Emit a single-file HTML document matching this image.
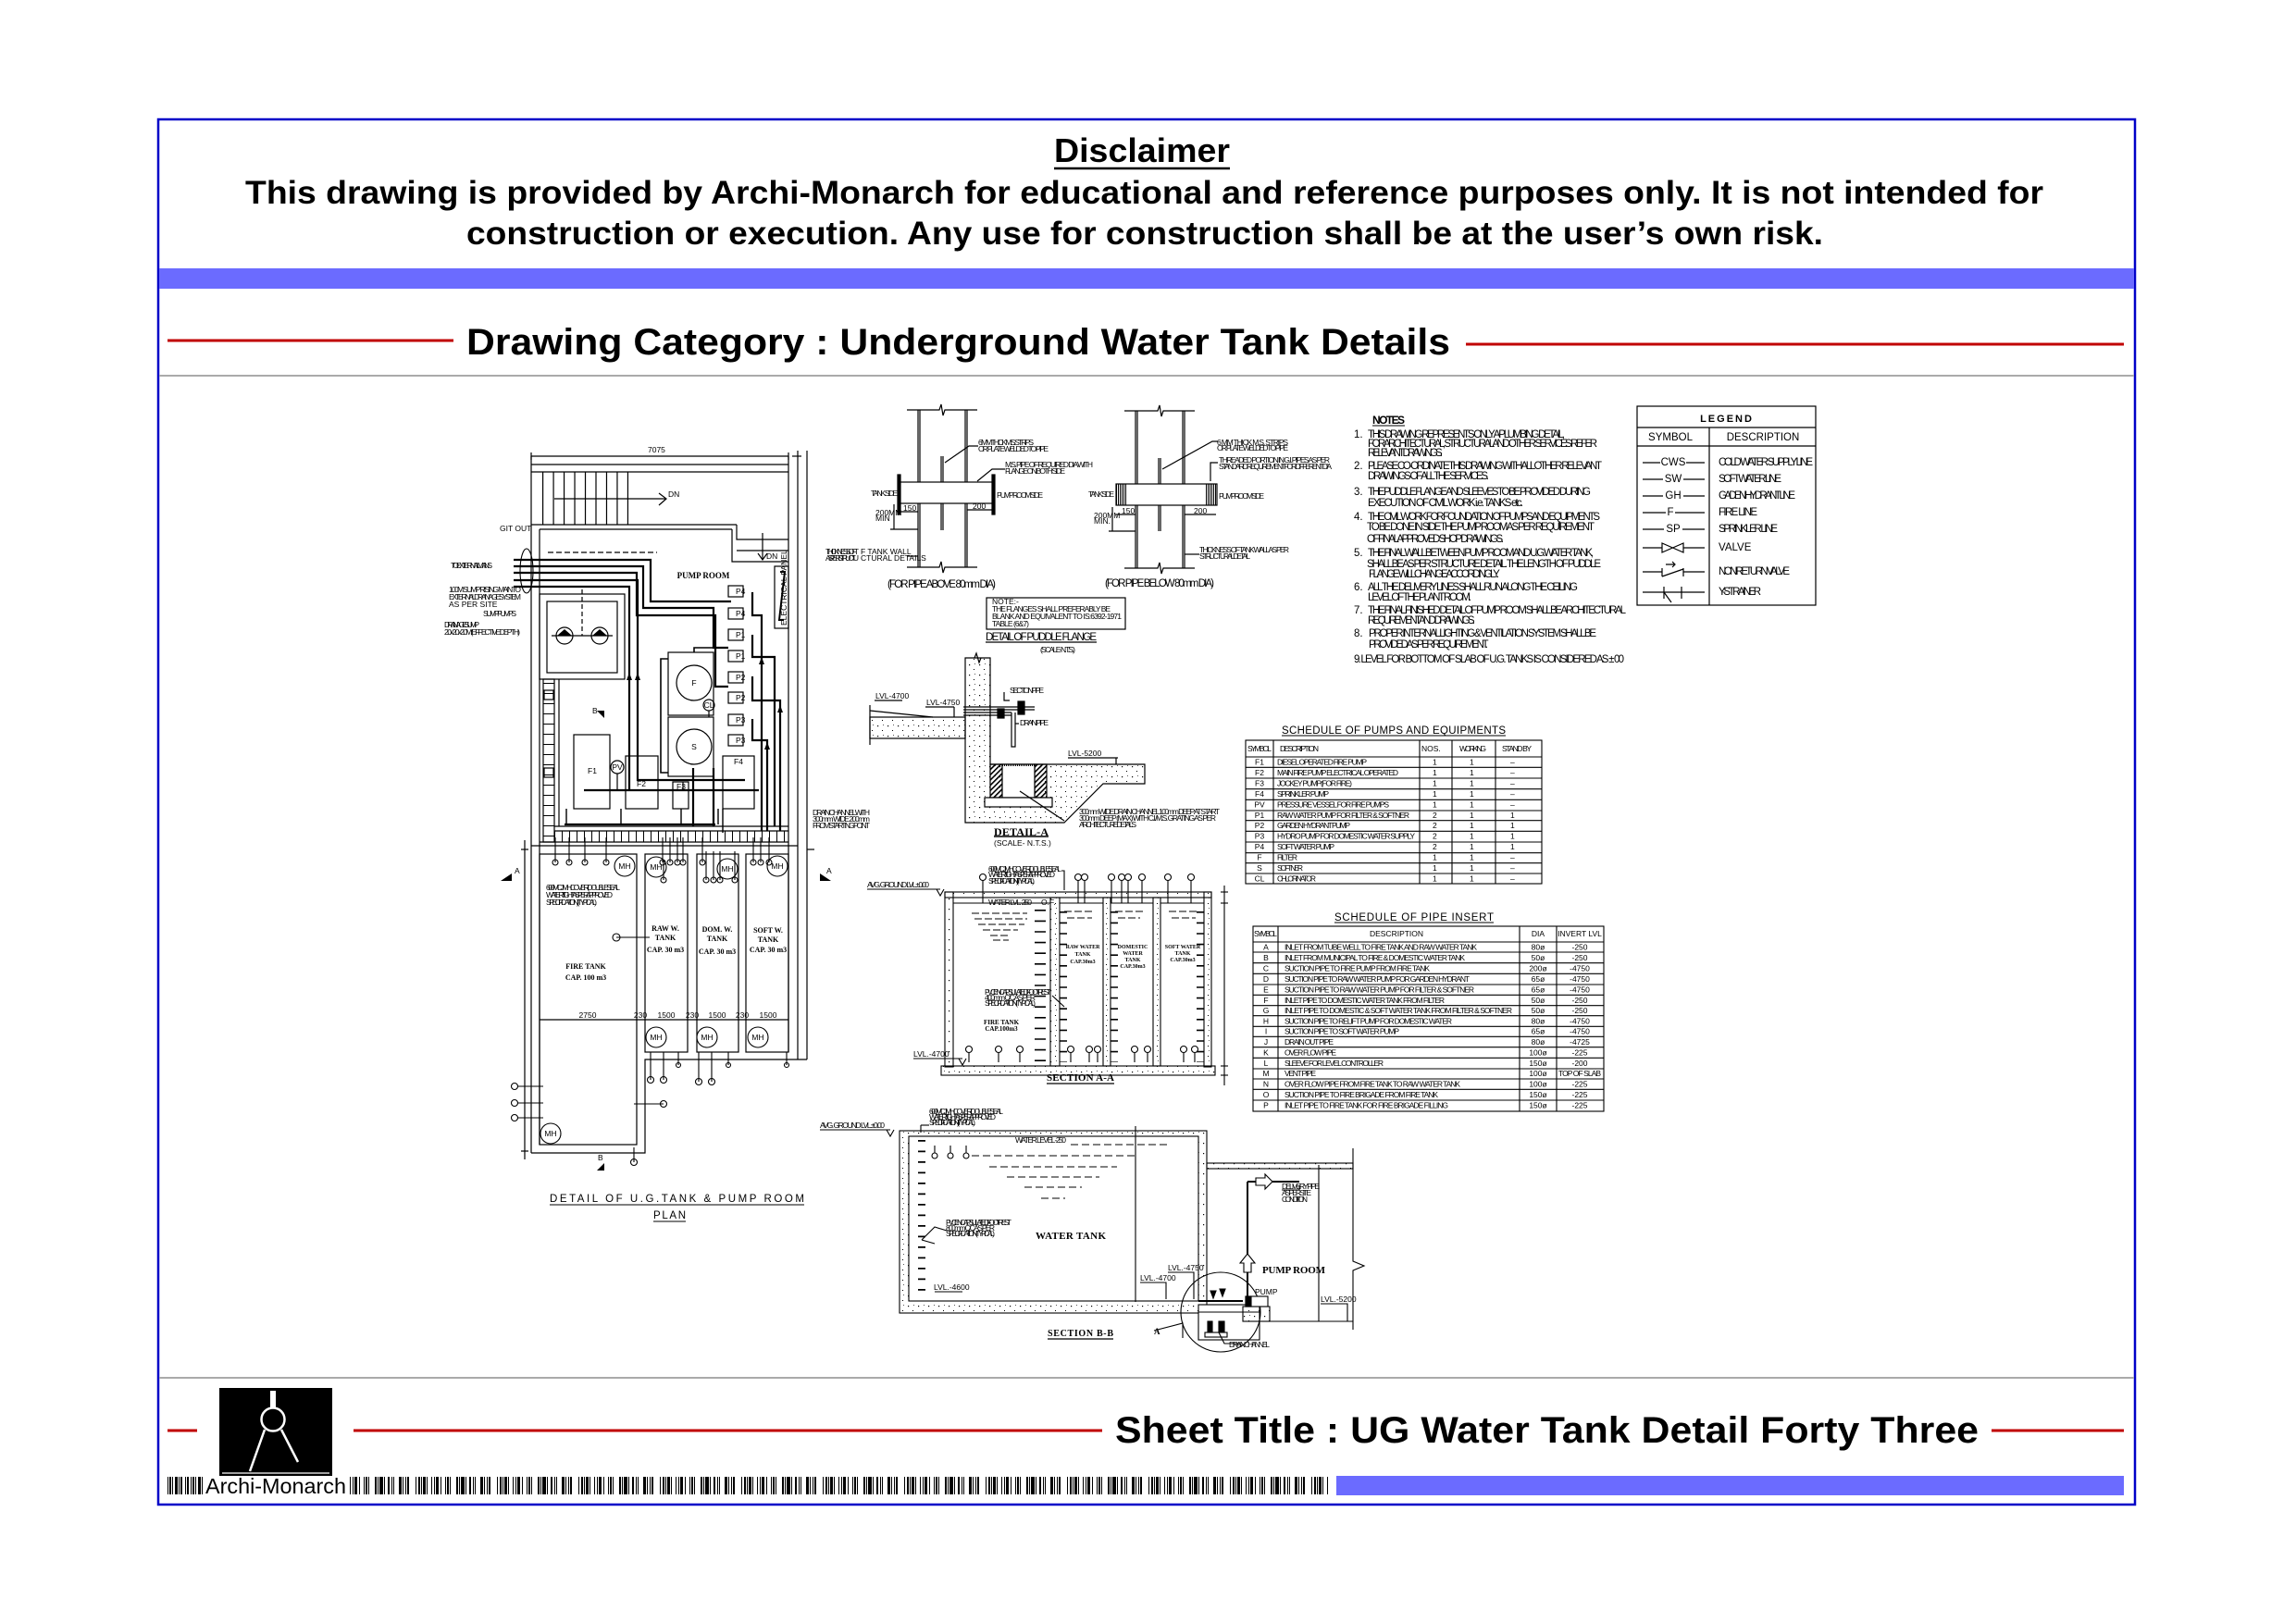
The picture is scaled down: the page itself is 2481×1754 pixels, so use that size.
<!DOCTYPE html>
<html><head><meta charset="utf-8"><title>UG Water Tank Detail Forty Three</title>
<style>
html,body{margin:0;padding:0;background:#fff;}
svg{display:block}
.b{font-family:"Liberation Sans",Arial,sans-serif;font-weight:bold;fill:#000}
.c{font-family:"Liberation Sans Narrow","Liberation Sans",Arial,sans-serif;font-size:8.5px;fill:#000;stroke:none}
.n{font-family:"Liberation Sans Narrow","Liberation Sans",Arial,sans-serif;font-size:11.5px;fill:#000;stroke:none}
.s{font-family:"Liberation Serif","Times New Roman",serif;font-weight:bold;fill:#000;stroke:none}
</style></head><body>
<svg width="2481" height="1754" viewBox="0 0 2481 1754" xmlns="http://www.w3.org/2000/svg">
<defs>
<pattern id="dots" width="11" height="11" patternUnits="userSpaceOnUse"><rect x="2" y="3" width="1.2" height="1.2" fill="#000"/><rect x="7" y="8" width="1" height="1" fill="#000"/><rect x="8" y="2" width="0.8" height="0.8" fill="#000"/></pattern>
<pattern id="hatch" width="4" height="4" patternUnits="userSpaceOnUse" patternTransform="rotate(45)"><rect x="0" y="0" width="1.6" height="4" fill="#000"/></pattern>
</defs>
<rect width="2481" height="1754" fill="#fff"/>

<!-- FRAME -->
<rect x="171" y="129" width="2136" height="1497" fill="none" stroke="#0000c8" stroke-width="2.5"/>
<rect x="172" y="290" width="2134" height="22" fill="#6b6bff"/>
<line x1="172" y1="406" x2="2306" y2="406" stroke="#aaa" stroke-width="2"/>
<line x1="172" y1="1489" x2="2306" y2="1489" stroke="#aaa" stroke-width="2"/>

<!-- HEADER -->
<text class="b" x="1234" y="175" text-anchor="middle" font-size="36" textLength="190" lengthAdjust="spacingAndGlyphs">Disclaimer</text>
<line x1="1139" y1="182" x2="1329" y2="182" stroke="#000" stroke-width="2.5"/>
<text class="b" x="265" y="220" font-size="35" textLength="1943" lengthAdjust="spacingAndGlyphs">This drawing is provided by Archi-Monarch for educational and reference purposes only. It is not intended for</text>
<text class="b" x="504" y="264" font-size="35" textLength="1466" lengthAdjust="spacingAndGlyphs">construction or execution. Any use for construction shall be at the user’s own risk.</text>
<line x1="181" y1="368" x2="490" y2="368" stroke="#c00000" stroke-width="3"/>
<line x1="1584" y1="372" x2="2295" y2="372" stroke="#c00000" stroke-width="3"/>
<text class="b" x="504" y="383" font-size="40" textLength="1063" lengthAdjust="spacingAndGlyphs">Drawing Category : Underground Water Tank Details</text>

<!-- FOOTER -->
<line x1="181" y1="1546" x2="213" y2="1546" stroke="#c00000" stroke-width="3"/>
<line x1="382" y1="1546" x2="1191" y2="1546" stroke="#c00000" stroke-width="3"/>
<line x1="2152" y1="1546" x2="2295" y2="1546" stroke="#c00000" stroke-width="3"/>
<text class="b" x="1205" y="1559" font-size="40" textLength="933" lengthAdjust="spacingAndGlyphs">Sheet Title : UG Water Tank Detail Forty Three</text>
<rect x="237" y="1500" width="122" height="95" fill="#000"/>
<g stroke="#fff" fill="none" stroke-width="2.5">
<rect x="292" y="1503" width="6" height="18" fill="#fff" stroke="none"/>
<circle cx="295" cy="1534" r="12.5"/>
<line x1="286" y1="1545" x2="270" y2="1590"/>
<line x1="304" y1="1545" x2="322" y2="1580"/>
<line x1="240" y1="1592" x2="356" y2="1592" stroke-width="1.2"/>
</g>
<line x1="181" y1="1605.5" x2="219" y2="1605.5" stroke="#000" stroke-width="19" stroke-dasharray="1 1 2 1 1 2 3 1 1 1 2 3 1 1 2 2"/>
<text x="222" y="1614" font-family="Liberation Sans, Arial, sans-serif" font-size="23" textLength="152" lengthAdjust="spacingAndGlyphs" fill="#000">Archi-Monarch</text>
<line x1="378" y1="1605.5" x2="1437" y2="1605.5" stroke="#000" stroke-width="19" stroke-dasharray="1 2 1 1 3 2 1 4 1 1 2 1 1 6 2 1 1 1 4 1 1 3 2 2 1 1 1 5 3 1 1 2 1 1 2 7 1 2 2 1 1 1 3 1 1 4"/>
<rect x="1444" y="1595" width="851" height="21" fill="#6b6bff"/>

<!-- ================= PLAN ================= -->
<g stroke="#000" fill="none" stroke-width="1.2">
<line x1="574" y1="493" x2="852" y2="493"/><line x1="574" y1="489" x2="574" y2="497"/><line x1="852" y1="489" x2="852" y2="497"/>
<line x1="856" y1="493" x2="866" y2="493"/>
<line x1="574" y1="502" x2="852" y2="502"/>
<line x1="574" y1="510" x2="852" y2="510"/>
<line x1="574" y1="567" x2="796" y2="567"/>
<line x1="689" y1="538.5" x2="792" y2="538.5" stroke-width="57" stroke-dasharray="1.2 10.28" transform="translate(-103,0)"/>
<line x1="599" y1="539" x2="720" y2="539"/><polyline points="712,533 720,539 712,546"/>
<text class="c" x="722" y="537" font-size="7">DN</text>
<line x1="583" y1="572" x2="791" y2="572"/>
<polyline points="791,572 791,607 852,607"/>
<polyline points="796,567 796,583 852,583"/><line x1="796" y1="595" x2="852" y2="595"/>
<line x1="824" y1="576" x2="824" y2="605"/><polyline points="819,598 824,605 829,598"/><text class="c" x="828" y="604" font-size="7">DN</text>
<!-- walls -->
<line x1="574" y1="493" x2="574" y2="1246"/>
<line x1="583" y1="572" x2="583" y2="1237"/>
<line x1="852" y1="493" x2="852" y2="1137"/>
<line x1="862" y1="487" x2="862" y2="1145"/>
<line x1="872" y1="487" x2="872" y2="1145"/>
<line x1="583" y1="910" x2="852" y2="910"/>
<line x1="574" y1="914" x2="862" y2="914"/>
<line x1="599" y1="893" x2="852" y2="893"/>
<line x1="599" y1="898" x2="852" y2="898"/>
<line x1="599" y1="904" x2="852" y2="904" stroke-width="12" stroke-dasharray="1 7"/>
<line x1="604" y1="734" x2="604" y2="893"/>
<rect x="587" y="734" width="12" height="176"/>
<line x1="593" y1="738" x2="593" y2="908" stroke-width="12" stroke-dasharray="1 10"/>
<rect x="588" y="746" width="10" height="10"/><rect x="588" y="830" width="10" height="10"/>
<!-- tanks -->
<rect x="583" y="923" width="105" height="314"/>
<rect x="697" y="923" width="46" height="214"/>
<rect x="753" y="923" width="45" height="214"/>
<rect x="806" y="923" width="46" height="214"/>
<polyline points="574,1246 697,1246 697,1145 872,1145"/>
<line x1="583" y1="1102" x2="852" y2="1102"/>
<line x1="567" y1="908" x2="567" y2="1253"/>
<line x1="563" y1="918" x2="571" y2="918"/><line x1="563" y1="1244" x2="571" y2="1244"/>
<line x1="872" y1="918" x2="880" y2="918"/>
<!-- sump -->
<rect x="583" y="642" width="92" height="92"/>
<rect x="591" y="650" width="76" height="77"/>
<line x1="596" y1="687" x2="662" y2="687"/>
<line x1="629" y1="637" x2="629" y2="687" stroke-dasharray="5 3"/>
<circle cx="610" cy="687" r="9"/><circle cx="648" cy="687" r="9"/>
<line x1="592" y1="597" x2="710" y2="597" stroke-dasharray="6 3"/>
<!-- equipment -->
<rect x="722" y="705" width="49" height="68"/>
<circle cx="750" cy="738" r="19"/>
<rect x="722" y="775" width="49" height="64"/>
<circle cx="750" cy="807" r="19"/>
<circle cx="766" cy="762" r="6"/>
<rect x="620" y="794" width="39" height="80"/>
<rect x="676" y="817" width="35" height="57"/>
<rect x="727" y="845" width="17" height="29"/>
<rect x="781" y="817" width="34" height="57"/>
<circle cx="667" cy="829" r="7"/>
<rect x="787" y="633" width="16" height="12"/><rect x="787" y="657" width="16" height="12"/>
<rect x="787" y="680" width="16" height="12"/><rect x="787" y="703" width="16" height="12"/>
<rect x="787" y="726" width="16" height="12"/><rect x="787" y="748" width="16" height="12"/>
<rect x="787" y="772" width="16" height="12"/><rect x="787" y="794" width="16" height="12"/>
<rect x="837" y="612" width="15" height="67"/>
<polyline points="843,618 848,618 842,670 847,670" stroke-width="2"/>
<line x1="667" y1="836" x2="667" y2="854"/>
<line x1="766" y1="768" x2="766" y2="775"/>
<line x1="738" y1="845" x2="738" y2="854"/>
</g>
<!-- pipes -->
<g stroke="#000" fill="none" stroke-width="2.2">
<polyline points="555,605 703,605 703,650 790,650"/>
<polyline points="555,612 695,612 695,657 771,657 771,700 787,700"/>
<polyline points="555,619 688,619 688,665 773,665 773,742 787,742"/>
<polyline points="555,627 689,627 689,843 805,843"/>
<polyline points="555,634 680,634 680,855"/>
<polyline points="813,640 813,665 823,665 823,898"/>
<polyline points="813,686 813,710 837,710 837,893"/>
<polyline points="813,731 813,757 843,757 843,898"/>
<polyline points="813,777 813,800 829,800 829,898"/>
<line x1="631" y1="854" x2="820" y2="854"/>
<line x1="610" y1="891" x2="773" y2="891"/>
<line x1="749" y1="830" x2="749" y2="893"/>
<line x1="771" y1="830" x2="771" y2="893"/>
<polyline points="722,712 714,712 714,835 722,835" stroke-width="1.6"/>
<polyline points="750,705 750,700 787,700" stroke-width="1.6"/>
<line x1="612" y1="874" x2="612" y2="891" stroke-width="1.4"/>
<line x1="671" y1="874" x2="671" y2="891" stroke-width="1.4"/>
<line x1="736" y1="874" x2="736" y2="891" stroke-width="1.4"/>
<line x1="776" y1="874" x2="776" y2="891" stroke-width="1.4"/>
<line x1="781" y1="874" x2="781" y2="900" stroke-width="1.4"/>
</g>
<g fill="#000">
<path d="M602,687 l8,-7 l8,7z"/><path d="M640,687 l8,-7 l8,7z"/>
<path d="M820,718 l3,-8 l3,8z"/><path d="M840,770 l3,-8 l3,8z"/><path d="M826,810 l3,-8 l3,8z"/>
<path d="M677,735 l3,-8 l3,8z"/><path d="M686,735 l3,-8 l3,8z"/>
</g>
<g>
<text class="s" x="760" y="625" font-size="9" text-anchor="middle">PUMP ROOM</text>
<text class="c" x="750" y="741" text-anchor="middle" font-size="8">F</text>
<text class="c" x="750" y="810" text-anchor="middle" font-size="8">S</text>
<text class="c" x="766" y="765" text-anchor="middle" font-size="6">CL</text>
<text class="c" x="667" y="832" text-anchor="middle" font-size="6">PV</text>
<text class="c" x="640" y="836" text-anchor="middle" font-size="8">F1</text>
<text class="c" x="693" y="850" text-anchor="middle" font-size="8">F2</text>
<text class="c" x="736" y="853" text-anchor="middle" font-size="7">F3</text>
<text class="c" x="798" y="826" text-anchor="middle" font-size="8">F4</text>
<text class="c" x="795" y="642" font-size="6">P4</text><text class="c" x="795" y="666" font-size="6">P4</text>
<text class="c" x="795" y="689" font-size="6">P1</text><text class="c" x="795" y="712" font-size="6">P1</text>
<text class="c" x="795" y="735" font-size="6">P2</text><text class="c" x="795" y="757" font-size="6">P2</text>
<text class="c" x="795" y="781" font-size="6">P3</text><text class="c" x="795" y="803" font-size="6">P3</text>
<text class="c" x="0" y="0" font-size="5" transform="translate(850,676) rotate(-90)">ELECTRICAL PANEL</text>
<text class="c" x="700" y="489" font-size="5">7075</text>
<text class="c" x="540" y="574" font-size="5">GIT OUT</text>
<text class="c" x="487" y="614" font-size="5" textLength="45">TO EXTERNAL MAINS</text>
<text class="c" x="485" y="640" font-size="5" textLength="78">100M SUMP RISING MAIN TO</text>
<text class="c" x="485" y="648" font-size="5" textLength="78">EXTERNAL DRAINAGE SYSTEM</text>
<text class="c" x="485" y="656" font-size="5">AS PER SITE</text>
<text class="c" x="522" y="666" font-size="5" textLength="36">SUMP PUMPS</text>
<text class="c" x="480" y="678" font-size="5" textLength="38">DRAINAGE SUMP</text>
<text class="c" x="480" y="686" font-size="5" textLength="82">2.0x2.0x2.0M(EFFECTIVE DEPTH)</text>
<text class="c" x="878" y="881" font-size="5" textLength="62">DRAIN CHANNEL WITH</text>
<text class="c" x="878" y="888" font-size="5" textLength="62">300mm WIDE 200mm</text>
<text class="c" x="878" y="895" font-size="5" textLength="62">FROM STARTING POINT</text>
<text class="c" x="590" y="962" font-size="5" textLength="80">600MCJ M.H. COVER (DOUBLE SEAL</text>
<text class="c" x="590" y="970" font-size="5" textLength="72">WATER TIGHT AS PER APPROVED</text>
<text class="c" x="590" y="978" font-size="5" textLength="55">SPECIFICATION) (TYPICAL)</text>
<text class="s" x="633" y="1047" font-size="8" text-anchor="middle">FIRE TANK</text>
<text class="s" x="633" y="1059" font-size="8" text-anchor="middle">CAP. 100 m3</text>
<text class="s" x="719" y="1006" font-size="8" text-anchor="middle">RAW W.</text>
<text class="s" x="719" y="1016" font-size="8" text-anchor="middle">TANK</text>
<text class="s" x="719" y="1029" font-size="8" text-anchor="middle">CAP. 30 m3</text>
<text class="s" x="775" y="1007" font-size="8" text-anchor="middle">DOM. W.</text>
<text class="s" x="775" y="1017" font-size="8" text-anchor="middle">TANK</text>
<text class="s" x="775" y="1031" font-size="8" text-anchor="middle">CAP. 30 m3</text>
<text class="s" x="830" y="1008" font-size="8" text-anchor="middle">SOFT W.</text>
<text class="s" x="830" y="1018" font-size="8" text-anchor="middle">TANK</text>
<text class="s" x="830" y="1029" font-size="8" text-anchor="middle">CAP. 30 m3</text>
<text class="c" x="635" y="1100" font-size="5" text-anchor="middle">2750</text>
<text class="c" x="692" y="1100" font-size="5" text-anchor="middle">230</text>
<text class="c" x="720" y="1100" font-size="5" text-anchor="middle">1500</text>
<text class="c" x="748" y="1100" font-size="5" text-anchor="middle">230</text>
<text class="c" x="775" y="1100" font-size="5" text-anchor="middle">1500</text>
<text class="c" x="802" y="1100" font-size="5" text-anchor="middle">230</text>
<text class="c" x="830" y="1100" font-size="5" text-anchor="middle">1500</text>
<text class="c" x="556" y="944" font-size="7">A</text>
<text class="c" x="893" y="944" font-size="7">A</text>
<text class="c" x="640" y="771" font-size="7">B</text>
<text class="c" x="646" y="1254" font-size="7">B</text>
</g>
<g fill="#000">
<path d="M541,952 l12,0 l0,-8z"/><path d="M886,952 l12,0 l-12,-8z"/>
<path d="M645,768 l8,0 l0,8z"/><path d="M645,1265 l8,0 l0,-8z"/>
</g>
<!-- manholes & bubbles -->
<g stroke="#000" fill="#fff" stroke-width="1.1">
<circle cx="675" cy="936" r="11"/><circle cx="709" cy="937" r="11"/><circle cx="786" cy="939" r="11"/><circle cx="840" cy="936" r="11"/>
<circle cx="709" cy="1121" r="11"/><circle cx="764" cy="1121" r="11"/><circle cx="819" cy="1121" r="11"/><circle cx="595" cy="1225" r="11"/>
</g>
<g>
<text class="c" x="675" y="939" text-anchor="middle" font-size="7">MH</text><text class="c" x="709" y="940" text-anchor="middle" font-size="7">MH</text>
<text class="c" x="786" y="942" text-anchor="middle" font-size="7">MH</text><text class="c" x="840" y="939" text-anchor="middle" font-size="7">MH</text>
<text class="c" x="709" y="1124" text-anchor="middle" font-size="7">MH</text><text class="c" x="764" y="1124" text-anchor="middle" font-size="7">MH</text>
<text class="c" x="819" y="1124" text-anchor="middle" font-size="7">MH</text><text class="c" x="595" y="1228" text-anchor="middle" font-size="7">MH</text>
</g>
<g stroke="#000" fill="none" stroke-width="1.1">
<path d="M600,905v27M615,905v27M632,905v27M655,905v27M716,905v27M724,905v27M732,905v27M738,905v27M759,905v27M814,905v27M822,905v27M831,905v27M717,930v21M763,920v31M771,920v31M778,920v31M794,920v31"/>
<path d="M703,1137v30M717,1137v30M755,1137v32M769,1137v32M733,1137v14M787,1137v14M850,1137v14"/>
<path d="M560,1174h27M560,1192h27M560,1208h27M685,1193h32M685,1240v16M666,1013h36"/>
<circle cx="600" cy="932" r="3"/><circle cx="615" cy="932" r="3"/><circle cx="632" cy="932" r="3"/><circle cx="655" cy="932" r="3"/>
<circle cx="716" cy="932" r="3"/><circle cx="724" cy="932" r="3"/><circle cx="732" cy="932" r="3"/><circle cx="738" cy="932" r="3"/>
<circle cx="759" cy="932" r="3"/><circle cx="814" cy="932" r="3"/><circle cx="822" cy="932" r="3"/><circle cx="831" cy="932" r="3"/>
<circle cx="717" cy="951" r="3"/><circle cx="763" cy="951" r="3"/><circle cx="771" cy="951" r="3"/><circle cx="778" cy="951" r="3"/><circle cx="794" cy="951" r="3"/>
<circle cx="703" cy="1167" r="3.5"/><circle cx="717" cy="1167" r="3.5"/><circle cx="755" cy="1169" r="3.5"/><circle cx="769" cy="1169" r="3.5"/>
<circle cx="733" cy="1151" r="2.5"/><circle cx="787" cy="1151" r="2.5"/><circle cx="850" cy="1151" r="2.5"/>
<circle cx="556" cy="1174" r="3.5"/><circle cx="556" cy="1192" r="3.5"/><circle cx="556" cy="1208" r="3.5"/>
<circle cx="717" cy="1193" r="3.5"/><circle cx="685" cy="1256" r="3.5"/><circle cx="666" cy="1013" r="4"/>
<ellipse cx="569" cy="617" rx="7" ry="24"/>
</g>
<text class="n" x="594" y="1299" textLength="275" lengthAdjust="spacing" font-size="16" stroke="#000" stroke-width="0.4">DETAIL OF U.G.TANK &amp; PUMP ROOM</text>
<line x1="594" y1="1302" x2="869" y2="1302" stroke="#000" stroke-width="1"/>
<text class="n" x="706" y="1317" textLength="35" lengthAdjust="spacing" font-size="16" stroke="#000" stroke-width="0.4">PLAN</text>
<line x1="706" y1="1320" x2="741" y2="1320" stroke="#000" stroke-width="1"/>

<!-- ================= PUDDLE FLANGES ================= -->
<g stroke="#000" fill="none" stroke-width="1.2">
<polyline points="980,443 1015,443 1017,437 1019,449 1021,443 1056,443"/>
<polyline points="980,613 1015,613 1017,607 1019,619 1021,613 1056,613"/>
<line x1="992" y1="443" x2="992" y2="613"/><line x1="994" y1="443" x2="994" y2="613"/>
<line x1="1043" y1="443" x2="1043" y2="613"/><line x1="1045" y1="443" x2="1045" y2="613"/>
<rect x="972" y="521" width="101" height="23" fill="#fff"/>
<rect x="970" y="513" width="3" height="43" fill="#000"/><rect x="1072" y="513" width="3" height="43" fill="#000"/>
<line x1="1017" y1="493" x2="1017" y2="521"/><line x1="1019" y1="493" x2="1019" y2="521"/>
<line x1="1017" y1="544" x2="1017" y2="573"/><line x1="1019" y1="544" x2="1019" y2="573"/>
<line x1="972" y1="553" x2="992" y2="553"/><line x1="1045" y1="551" x2="1073" y2="551"/>
<line x1="966" y1="545" x2="966" y2="572"/><line x1="962" y1="572" x2="992" y2="572"/>
<polyline points="1021,500 1047,482 1057,482"/><polyline points="1056,520 1072,507 1086,507"/>
<line x1="980" y1="601" x2="992" y2="601"/>
<polyline points="1215,444 1251,444 1253,438 1255,450 1257,444 1291,444"/>
<polyline points="1215,614 1251,614 1253,608 1255,620 1257,614 1291,614"/>
<line x1="1227" y1="444" x2="1227" y2="614"/><line x1="1229" y1="444" x2="1229" y2="614"/>
<line x1="1278" y1="444" x2="1278" y2="614"/><line x1="1280" y1="444" x2="1280" y2="614"/>
<rect x="1206" y="523" width="109" height="23" fill="#fff"/>
<line x1="1206" y1="534.5" x2="1218" y2="534.5" stroke-width="23" stroke-dasharray="1 1"/>
<line x1="1303" y1="534.5" x2="1315" y2="534.5" stroke-width="23" stroke-dasharray="1 1"/>
<line x1="1252" y1="495" x2="1252" y2="523"/><line x1="1254" y1="495" x2="1254" y2="523"/>
<line x1="1252" y1="546" x2="1252" y2="574"/><line x1="1254" y1="546" x2="1254" y2="574"/>
<line x1="1206" y1="556" x2="1227" y2="556"/><line x1="1280" y1="556" x2="1314" y2="556"/>
<line x1="1202" y1="548" x2="1202" y2="574"/><line x1="1198" y1="574" x2="1227" y2="574"/>
<polyline points="1256,507 1310,477 1316,477"/><polyline points="1308,520 1308,500 1316,500"/>
<polyline points="1280,599 1296,599"/>
<rect x="1066" y="646" width="150" height="34"/>
<line x1="1065" y1="694" x2="1185" y2="694"/>
</g>
<g>
<text class="c" x="1057" y="481" font-size="6" textLength="60">6 MM THICK M.S. STRIPS</text>
<text class="c" x="1057" y="488" font-size="6" textLength="76">OR PLATE WELDED TO PIPE</text>
<text class="c" x="1086" y="505" font-size="6" textLength="95">M.S. PIPE OF REQUIRED DIA WITH</text>
<text class="c" x="1086" y="512" font-size="6" textLength="65">FLANGE ON BOTH SIDE</text>
<text class="c" x="941" y="536" font-size="6" textLength="29">TANK SIDE</text>
<text class="c" x="1077" y="538" font-size="6" textLength="50">PUMP ROOM SIDE</text>
<text class="c" x="976" y="552" font-size="6">150</text><text class="c" x="1051" y="550" font-size="6">200</text>
<text class="c" x="946" y="557" font-size="5">200MM</text><text class="c" x="946" y="563" font-size="5">MIN</text>
<text class="c" x="930" y="599" font-size="6">F TANK WALL</text><text class="c" x="930" y="606" font-size="6">CTURAL DETAILS</text>
<text class="c" x="892" y="599" font-size="5" textLength="36">THICKNESS OF T</text>
<text class="c" x="892" y="606" font-size="5" textLength="36">AS PER STRUCTU</text>
<text class="n" x="959" y="635" font-size="9" textLength="117">(FOR PIPE ABOVE 80mm DIA)</text>
<text class="c" x="1315" y="481" font-size="6" textLength="77">6 MM THICK M.S. STRIPS</text>
<text class="c" x="1315" y="487" font-size="6" textLength="77">OR PLATE WELDED TO PIPE</text>
<text class="c" x="1317" y="500" font-size="6" textLength="120">THREADED PORTION IN G.I. PIPES AS PER</text>
<text class="c" x="1317" y="507" font-size="6" textLength="122">STANDARD REQUIREMENT FOR DIFFERENT DIA</text>
<text class="c" x="1176" y="537" font-size="6" textLength="28">TANK SIDE</text>
<text class="c" x="1317" y="539" font-size="6" textLength="49">PUMP ROOM SIDE</text>
<text class="c" x="1212" y="555" font-size="6">150</text><text class="c" x="1290" y="555" font-size="6">200</text>
<text class="c" x="1182" y="560" font-size="5">200MM</text><text class="c" x="1182" y="566" font-size="5">MIN.</text>
<text class="c" x="1296" y="597" font-size="6" textLength="97">THICKNESS OF TANK WALL AS PER</text>
<text class="c" x="1296" y="604" font-size="6" textLength="55">STRUCTURAL DETAIL</text>
<text class="n" x="1194" y="634" font-size="9" textLength="118">(FOR PIPE BELOW 80mm DIA)</text>
<text class="c" x="1072" y="653" font-size="6.5">NOTE:-</text>
<text class="c" x="1072" y="661" font-size="6.5" textLength="128">THE FLANGES SHALL PREFERABLY BE</text>
<text class="c" x="1072" y="669" font-size="6.5" textLength="140">BLANK AND EQUIVALENT TO IS:6392-1971</text>
<text class="c" x="1072" y="677" font-size="6.5" textLength="40">TABLE (6&amp;7)</text>
<text class="n" x="1065" y="692" font-size="10" textLength="120">DETAIL OF PUDDLE FLANGE</text>
<text class="c" x="1124" y="705" font-size="6" textLength="38">(SCALE-N.T.S.)</text>
</g>

<!-- ================= DETAIL A ================= -->
<g stroke="#000" stroke-width="1.2">
<polygon points="1043,711 1070,711 1070,826 1237,826 1237,847 1192,847 1150,889 1043,889" fill="url(#dots)"/>
<rect x="940" y="775" width="103" height="23" fill="url(#dots)"/>
<polyline points="940,768 1008,775" fill="none"/>
<line x1="940" y1="762" x2="940" y2="805"/>
<rect x="1070" y="826" width="13" height="36" fill="url(#hatch)"/>
<rect x="1118" y="826" width="13" height="36" fill="url(#hatch)"/>
<rect x="1083" y="826" width="35" height="36" fill="#fff"/>
<rect x="1064" y="862" width="73" height="10" fill="#fff"/>
<line x1="1083" y1="827" x2="1118" y2="827" stroke-dasharray="1 1" stroke-width="2"/>
<polyline points="1053,711 1055,706 1058,716 1060,711" fill="none"/>
<line x1="1041" y1="764" x2="1118" y2="764"/><line x1="1041" y1="767" x2="1118" y2="767"/>
<line x1="1041" y1="770" x2="1093" y2="770"/><line x1="1041" y1="773" x2="1093" y2="773"/>
<polyline points="1093,770 1093,807 1097,807 1097,770" fill="#fff"/>
<rect x="1100" y="758" width="7" height="14" fill="#000"/>
<rect x="1078" y="766" width="7" height="10" fill="#000"/>
<polyline points="1150,887 1102,855" fill="none"/>
<polyline points="1085,748 1085,757 1091,757" fill="none"/>
<polyline points="1097,782 1101,782" fill="none"/>
<line x1="945" y1="757" x2="975" y2="757"/><line x1="1000" y1="764" x2="1031" y2="764"/><line x1="1031" y1="764" x2="1031" y2="775"/>
<line x1="1154" y1="819" x2="1208" y2="819"/><line x1="1206" y1="819" x2="1206" y2="826"/>
<line x1="1074" y1="904" x2="1133" y2="904" stroke-width="1.5"/>
</g>
<g>
<text class="c" x="946" y="755" font-size="6">LVL-4700</text>
<text class="c" x="1001" y="762" font-size="6">LVL-4750</text>
<text class="c" x="1091" y="749" font-size="6" textLength="37">SECTION PIPE</text>
<text class="c" x="1102" y="784" font-size="6" textLength="31">DRAIN PIPE</text>
<text class="c" x="1154" y="817" font-size="6">LVL-5200</text>
<text class="c" x="1166" y="880" font-size="6" textLength="152">300mm WIDE DRAIN CHANNEL 100mm DEEP AT START</text>
<text class="c" x="1166" y="887" font-size="6" textLength="148">300mm DEEP (MAX) WITH C.I./M.S. GRATING AS PER</text>
<text class="c" x="1166" y="894" font-size="6" textLength="62">ARCHITECTURE DETAILS</text>
<text class="s" x="1074" y="903" font-size="12" textLength="59">DETAIL-A</text>
<text class="c" x="1074" y="914" font-size="6">(SCALE- N.T.S.)</text>
</g>

<!-- ================= SECTION A-A ================= -->
<g stroke="#000" stroke-width="1.1">
<rect x="1021" y="964" width="288" height="6" fill="url(#dots)"/>
<rect x="1021" y="964" width="9" height="189" fill="url(#dots)"/>
<rect x="1135" y="970" width="10" height="182" fill="url(#dots)"/>
<rect x="1192" y="970" width="8" height="182" fill="url(#dots)"/>
<rect x="1246" y="970" width="8" height="182" fill="url(#dots)"/>
<rect x="1301" y="964" width="8" height="189" fill="url(#dots)"/>
<rect x="1017" y="1152" width="296" height="10" fill="url(#dots)"/>
<line x1="1030" y1="976" x2="1135" y2="976"/>
<line x1="1145" y1="976" x2="1192" y2="976"/><line x1="1200" y1="976" x2="1246" y2="976"/><line x1="1254" y1="976" x2="1301" y2="976"/>
<line x1="937" y1="961" x2="1016" y2="961"/><polyline points="1012,961 1016,968 1020,961" fill="none"/>
<line x1="987" y1="1144" x2="1040" y2="1144"/><polyline points="1036,1144 1040,1151 1044,1144" fill="none"/>
<line x1="1323" y1="957" x2="1323" y2="1173"/>
<line x1="1319" y1="964" x2="1327" y2="964"/><line x1="1319" y1="976" x2="1327" y2="976"/><line x1="1319" y1="1152" x2="1327" y2="1152"/><line x1="1319" y1="1162" x2="1327" y2="1162"/>
<polyline points="1147,941 1150,941 1150,962" fill="none"/>
</g>
<g stroke="#000" stroke-width="1.1" fill="none">
<line x1="1050" y1="987" x2="1110" y2="987" stroke-dasharray="8 3"/>
<line x1="1053" y1="993" x2="1110" y2="993" stroke-dasharray="8 3"/>
<line x1="1057" y1="999" x2="1107" y2="999" stroke-dasharray="8 3"/>
<line x1="1062" y1="1005" x2="1100" y2="1005" stroke-dasharray="8 3"/>
<line x1="1070" y1="1011" x2="1090" y2="1011" stroke-dasharray="8 3"/>
<line x1="1073" y1="1016" x2="1090" y2="1016" stroke-dasharray="8 3"/>
<line x1="1150" y1="985" x2="1183" y2="985" stroke-dasharray="8 3"/><line x1="1153" y1="992" x2="1180" y2="992" stroke-dasharray="8 3"/>
<line x1="1205" y1="985" x2="1235" y2="985" stroke-dasharray="8 3"/><line x1="1208" y1="992" x2="1232" y2="992" stroke-dasharray="8 3"/>
<line x1="1263" y1="985" x2="1295" y2="985" stroke-dasharray="8 3"/><line x1="1266" y1="992" x2="1292" y2="992" stroke-dasharray="8 3"/>
<line x1="1124" y1="983" x2="1124" y2="1148" stroke-width="12" stroke-dasharray="1.6 10"/>
<line x1="1149" y1="985" x2="1149" y2="1148" stroke-width="8" stroke-dasharray="1.6 10"/>
<line x1="1204" y1="985" x2="1204" y2="1148" stroke-width="8" stroke-dasharray="1.6 10"/>
<line x1="1297" y1="985" x2="1297" y2="1148" stroke-width="8" stroke-dasharray="1.6 10"/>
<path d="M1062,951v25M1165,951v25M1172,951v25M1201,951v25M1212,951v25M1219,951v25M1234,951v25M1262,951v25M1287,951v25"/>
<path d="M1047,1137v11M1079,1137v11M1102,1137v11M1157,1137v11M1177,1137v11M1186,1137v11M1226,1137v11M1240,1137v11M1279,1137v11M1291,1137v11"/>
<circle cx="1062" cy="948" r="3.5"/><circle cx="1165" cy="948" r="3.5"/><circle cx="1172" cy="948" r="3.5"/><circle cx="1201" cy="948" r="3.5"/>
<circle cx="1212" cy="948" r="3.5"/><circle cx="1219" cy="948" r="3.5"/><circle cx="1234" cy="948" r="3.5"/><circle cx="1262" cy="948" r="3.5"/><circle cx="1287" cy="948" r="3.5"/>
<circle cx="1047" cy="1134" r="3.5"/><circle cx="1079" cy="1134" r="3.5"/><circle cx="1102" cy="1134" r="3.5"/><circle cx="1157" cy="1134" r="3.5"/>
<circle cx="1177" cy="1134" r="3.5"/><circle cx="1186" cy="1134" r="3.5"/><circle cx="1226" cy="1134" r="3.5"/><circle cx="1240" cy="1134" r="3.5"/>
<circle cx="1279" cy="1134" r="3.5"/><circle cx="1291" cy="1134" r="3.5"/>
<line x1="1137" y1="1076" x2="1150" y2="1088"/>
</g>
<g>
<text class="c" x="937" y="959" font-size="6" textLength="67">AVG. GROUND LVL.±0.00</text>
<text class="c" x="1068" y="942" font-size="5" textLength="79">600MCJ M.H. COVER (DOUBLE SEAL</text>
<text class="c" x="1068" y="948" font-size="5" textLength="72">WATER TIGHT AS PER APPROVED</text>
<text class="c" x="1068" y="955" font-size="5" textLength="50">SPECIFICATION) (TYPICAL)</text>
<text class="c" x="1068" y="978" font-size="6" textLength="47">WATER LVL.-250</text>
<text class="c" x="1125" y="978" font-size="6">O.F.</text>
<text class="c" x="987" y="1142" font-size="6">LVL.-4700</text>
<text class="c" x="1064" y="1075" font-size="5" textLength="72">PVC ENCAPSULATED FOOT REST</text>
<text class="c" x="1064" y="1081" font-size="5" textLength="55">400mm C/C AS PER</text>
<text class="c" x="1064" y="1087" font-size="5" textLength="55">SPECIFICATION (TYPICAL)</text>
<text class="s" x="1082" y="1107" font-size="7" text-anchor="middle">FIRE TANK</text>
<text class="s" x="1082" y="1114" font-size="7" text-anchor="middle">CAP.100m3</text>
<text class="s" x="1170" y="1025" font-size="6" text-anchor="middle">RAW WATER</text>
<text class="s" x="1170" y="1033" font-size="6" text-anchor="middle">TANK</text>
<text class="s" x="1170" y="1041" font-size="6" text-anchor="middle">CAP.30m3</text>
<text class="s" x="1224" y="1025" font-size="6" text-anchor="middle">DOMESTIC</text>
<text class="s" x="1224" y="1032" font-size="6" text-anchor="middle">WATER</text>
<text class="s" x="1224" y="1039" font-size="6" text-anchor="middle">TANK</text>
<text class="s" x="1224" y="1046" font-size="6" text-anchor="middle">CAP.30m3</text>
<text class="s" x="1278" y="1025" font-size="6" text-anchor="middle">SOFT WATER</text>
<text class="s" x="1278" y="1032" font-size="6" text-anchor="middle">TANK</text>
<text class="s" x="1278" y="1039" font-size="6" text-anchor="middle">CAP.30m3</text>
<text class="s" x="1131" y="1168" font-size="11" textLength="73">SECTION A-A</text>
<line x1="1131" y1="1171" x2="1204" y2="1171" stroke="#000" stroke-width="1.2"/>
</g>

<!-- ================= SECTION B-B ================= -->
<g stroke="#000" stroke-width="1.1">
<rect x="972" y="1222" width="332" height="197" fill="url(#dots)"/>
<rect x="982" y="1228" width="313" height="178" fill="#fff"/>
<line x1="982" y1="1406" x2="1295" y2="1406"/>
<rect x="1304" y="1257" width="158" height="6" fill="url(#dots)"/>
<rect x="1295" y="1410" width="66" height="38" fill="#fff"/>
<line x1="1361" y1="1428" x2="1462" y2="1428"/><line x1="1295" y1="1418" x2="1361" y2="1418"/>
<polyline points="1462,1241 1462,1363 1474,1368 1462,1373 1462,1437" fill="none"/>
<rect x="1305" y="1428" width="5" height="12" fill="#000"/><rect x="1317" y="1428" width="6" height="12" fill="#000"/>
<rect x="1302" y="1440" width="24" height="5" fill="#fff"/>
<circle cx="1319" cy="1418" r="43" fill="none"/>
<rect x="1343" y="1412" width="29" height="16" fill="url(#dots)"/>
<rect x="1346" y="1401" width="24" height="11" fill="#fff"/><rect x="1346" y="1401" width="6" height="11" fill="#000"/>
<line x1="1348" y1="1277" x2="1348" y2="1401" stroke-width="2"/>
<line x1="1348" y1="1277" x2="1404" y2="1277" stroke-width="2"/>
<polygon points="1357,1273 1367,1273 1367,1269 1375,1277 1367,1285 1367,1281 1357,1281" fill="#fff"/>
<polygon points="1344,1375 1344,1365 1340,1365 1348,1355 1356,1365 1352,1365 1352,1375" fill="#fff"/>
<line x1="1295" y1="1406" x2="1343" y2="1406" stroke-width="2"/>
<path d="M1308,1395 l3,8 l3,-8z M1318,1393 l3,8 l3,-8z" fill="#000"/>
<line x1="1227" y1="1217" x2="1227" y2="1407"/>
<line x1="1425" y1="1259" x2="1425" y2="1428"/>
<line x1="886" y1="1221" x2="962" y2="1221"/><polyline points="958,1221 962,1228 966,1221" fill="none"/>
<line x1="1004" y1="1216" x2="995" y2="1216"/><line x1="995" y1="1216" x2="995" y2="1224"/>
<polyline points="1404,1281 1404,1286 1385,1286" fill="none"/>
<polyline points="1247,1438 1278,1430 1278,1446z" fill="#fff"/>
<polyline points="1340,1452 1323,1452 1317,1440" fill="none"/>
<polyline points="1010,1396 1040,1396" fill="none"/><polyline points="1232,1386 1260,1386 1260,1404" fill="none"/>
<polyline points="1262,1375 1290,1375 1290,1404" fill="none"/>
<polyline points="1427,1409 1456,1409 1456,1428" fill="none"/>
<polyline points="996,1340 1010,1326 1023,1330" fill="none"/><line x1="996" y1="1340" x2="1010" y2="1344"/>
</g>
<g stroke="#000" fill="none" stroke-width="1.1">
<line x1="1157" y1="1237" x2="1265" y2="1237" stroke-dasharray="8 4"/>
<line x1="1050" y1="1249" x2="1228" y2="1249" stroke-dasharray="8 4"/>
<line x1="1069" y1="1261" x2="1207" y2="1261" stroke-dasharray="8 4"/>
<line x1="1088" y1="1272" x2="1188" y2="1272" stroke-dasharray="8 4"/>
<line x1="1107" y1="1283" x2="1169" y2="1283" stroke-dasharray="8 4"/>
<line x1="1125" y1="1295" x2="1151" y2="1295" stroke-dasharray="8 4"/>
<line x1="996" y1="1232" x2="996" y2="1404" stroke-width="8" stroke-dasharray="1.8 9.7"/>
<path d="M1010,1238v8M1027,1238v8M1044,1238v8"/>
<circle cx="1010" cy="1249" r="3"/><circle cx="1027" cy="1249" r="3"/><circle cx="1044" cy="1249" r="3"/>
</g>
<g>
<text class="c" x="886" y="1219" font-size="6" textLength="70">AVG. GROUND LVL.±0.00</text>
<text class="c" x="1004" y="1204" font-size="5" textLength="80">600MCJ M.H. COVER (DOUBLE SEAL</text>
<text class="c" x="1004" y="1210" font-size="5" textLength="72">WATER TIGHT AS PER APPROVED</text>
<text class="c" x="1004" y="1216" font-size="5" textLength="50">SPECIFICATION) (TYPICAL)</text>
<text class="c" x="1097" y="1235" font-size="6" textLength="55">WATER LEVEL -250</text>
<text class="c" x="1022" y="1324" font-size="5" textLength="71">PVC ENCAPSULATED FOOT REST</text>
<text class="c" x="1022" y="1330" font-size="5" textLength="53">800mm C/C AS PER</text>
<text class="c" x="1022" y="1336" font-size="5" textLength="53">SPECIFICATION (TYPICAL)</text>
<text class="s" x="1157" y="1339" font-size="11" text-anchor="middle" textLength="76">WATER TANK</text>
<text class="s" x="1398" y="1376" font-size="11" text-anchor="middle" textLength="68">PUMP ROOM</text>
<text class="c" x="1009" y="1394" font-size="6">LVL.-4600</text>
<text class="c" x="1232" y="1384" font-size="6">LVL.-4700</text>
<text class="c" x="1262" y="1373" font-size="6">LVL.-4750</text>
<text class="c" x="1427" y="1407" font-size="6">LVL.-5200</text>
<text class="c" x="1356" y="1399" font-size="6">PUMP</text>
<text class="c" x="1385" y="1285" font-size="6" textLength="41">DELIVERY PIPE</text>
<text class="c" x="1385" y="1292" font-size="6" textLength="32">AS PER SITE</text>
<text class="c" x="1385" y="1299" font-size="6" textLength="28">CONDITION</text>
<text class="s" x="1247" y="1442" font-size="9">A</text>
<text class="c" x="1328" y="1456" font-size="6" textLength="44">DRAIN CHANNEL</text>
<text class="s" x="1132" y="1444" font-size="10" textLength="71">SECTION B-B</text>
<line x1="1132" y1="1447" x2="1203" y2="1447" stroke="#000" stroke-width="1.2"/>
</g>

<!-- ================= NOTES ================= -->
<g>
<text class="b" x="1483" y="458" font-size="12" textLength="35">NOTES</text>
<line x1="1483" y1="460" x2="1518" y2="460" stroke="#000" stroke-width="1"/>
<text class="n" x="1463" y="473">1.</text>
<text class="n" x="1478" y="473" textLength="213">THIS DRAWING REPRESENTS ONLY A PLUMBING DETAIL,</text>
<text class="n" x="1478" y="483" textLength="248">FOR ARCHITECTURAL, STRUCTURAL AND OTHER SERVICES REFER</text>
<text class="n" x="1478" y="493" textLength="81">RELEVANT DRAWINGS.</text>
<text class="n" x="1463" y="507">2.</text>
<text class="n" x="1478" y="507" textLength="253">PLEASE CO-ORDINATE THIS DRAWING WITH ALL OTHER RELEVANT</text>
<text class="n" x="1478" y="518" textLength="131">DRAWINGS OF ALL THE SERVICES.</text>
<text class="n" x="1463" y="535">3.</text>
<text class="n" x="1478" y="535" textLength="241">THE PUDDLE FLANGE AND SLEEVES TO BE PROVIDED DURING</text>
<text class="n" x="1478" y="547" textLength="168">EXECUTION OF CIVIL WORK i.e. TANKS etc.</text>
<text class="n" x="1463" y="562">4.</text>
<text class="n" x="1478" y="562" textLength="251">THE CIVIL WORK FOR FOUNDATION OF PUMPS AND EQUIPMENTS</text>
<text class="n" x="1477" y="573" textLength="246">TO BE DONE IN SIDE THE PUMP ROOM AS PER REQUIREMENT</text>
<text class="n" x="1477" y="586" textLength="148">OF FINAL APPROVED SHOP DRAWINGS.</text>
<text class="n" x="1463" y="601">5.</text>
<text class="n" x="1478" y="601" textLength="244">THE FINAL WALL BETWEEN PUMP ROOM AND U.G.WATER TANK,</text>
<text class="n" x="1477" y="613" textLength="253">SHALL BE AS PER STRUCTURE DETAIL. THE LENGTH OF PUDDLE</text>
<text class="n" x="1479" y="624" textLength="141">FLANGE WILL CHANGE ACCORDINGLY.</text>
<text class="n" x="1463" y="638">6.</text>
<text class="n" x="1478" y="638" textLength="227">ALL THE DELIVERY LINES SHALL RUN ALONG THE CEILING</text>
<text class="n" x="1478" y="649" textLength="112">LEVEL OF THE PLANT ROOM.</text>
<text class="n" x="1463" y="663">7.</text>
<text class="n" x="1478" y="663" textLength="279">THE FINAL FINISHED DETAIL OF PUMP ROOM SHALL BE ARCHITECTURAL</text>
<text class="n" x="1478" y="674" textLength="116">REQUIREMENT AND DRAWINGS.</text>
<text class="n" x="1463" y="688">8.</text>
<text class="n" x="1479" y="688" textLength="246">PROPER INTERNAL LIGHTING &amp; VENTILATION SYSTEM SHALL BE</text>
<text class="n" x="1479" y="700" textLength="129">PROVIDED AS PER REQUIREMENT.</text>
<text class="n" x="1463" y="716" textLength="292">9. LEVEL FOR BOTTOM OF SLAB OF U.G. TANKS IS CONSIDERED AS ± 00</text>
</g>

<!-- ================= LEGEND ================= -->
<g stroke="#000" fill="none" stroke-width="1.2">
<rect x="1769" y="439" width="193" height="215"/>
<line x1="1769" y1="462" x2="1962" y2="462"/>
<line x1="1769" y1="482" x2="1962" y2="482"/>
<line x1="1847" y1="462" x2="1847" y2="654"/>
<path d="M1775,500h19M1822,500h20M1775,518h22M1819,518h23M1775,536h22M1819,536h23M1775,554h25M1810,554h32M1775,572h23M1818,572h24"/>
<path d="M1775,592h21M1819,592h23M1796,587v10l23,-10v10z"/>
<path d="M1775,618h21M1819,618h23M1796,623l23,-8M1796,614v9M1819,614v9M1800,610h10M1807,607l3,3l-3,3"/>
<path d="M1775,640h67M1798,634v13M1817,634v13M1798,640l8,11" />
</g>
<g>
<text class="b" x="1866" y="456" font-size="11" text-anchor="middle" letter-spacing="2">LEGEND</text>
<text class="n" x="1805" y="476" text-anchor="middle" font-size="10">SYMBOL</text>
<text class="n" x="1905" y="476" text-anchor="middle" font-size="10">DESCRIPTION</text>
<text class="n" x="1808" y="503" text-anchor="middle" font-size="9.5">CWS</text>
<text class="n" x="1808" y="521" text-anchor="middle" font-size="9.5">SW</text>
<text class="n" x="1808" y="539" text-anchor="middle" font-size="9.5">GH</text>
<text class="n" x="1805" y="557" text-anchor="middle" font-size="9.5">F</text>
<text class="n" x="1808" y="575" text-anchor="middle" font-size="9.5">SP</text>
<text class="n" x="1857" y="503" font-size="10" textLength="102">COLD WATER SUPPLY LINE</text>
<text class="n" x="1857" y="521" font-size="10" textLength="68">SOFT WATER LINE</text>
<text class="n" x="1857" y="539" font-size="10" textLength="83">GADEN HYDRANT LINE</text>
<text class="n" x="1857" y="557" font-size="10" textLength="42">FIRE LINE</text>
<text class="n" x="1857" y="575" font-size="10" textLength="64">SPRINKLER LINE</text>
<text class="n" x="1857" y="595" font-size="10">VALVE</text>
<text class="n" x="1857" y="621" font-size="10" textLength="77">NON RETURN VALVE</text>
<text class="n" x="1857" y="643" font-size="10" textLength="46">Y-STRAINER</text>
</g>

<!-- ================= SCHEDULE OF PUMPS ================= -->
<g>
<text class="n" x="1385" y="793" font-size="11" textLength="242">SCHEDULE OF PUMPS AND EQUIPMENTS</text>
<line x1="1385" y1="795" x2="1627" y2="795" stroke="#000" stroke-width="1"/>
</g>
<g stroke="#000" fill="none" stroke-width="1.1">
<rect x="1346" y="800" width="320" height="155"/>
<path d="M1376,800v155M1534,800v155M1569,800v155M1616,800v155"/>
<path d="M1346,818h320M1346,829.3h320M1346,841h320M1346,852.7h320M1346,864.3h320M1346,876h320M1346,886.7h320M1346,898.3h320M1346,910h320M1346,921.7h320M1346,932.7h320M1346,944h320"/>
</g>
<g>
<text class="c" x="1348" y="812" textLength="26">SYMBOL</text>
<text class="c" x="1383" y="812" textLength="42">DESCRIPTION</text>
<text class="c" x="1536" y="812">NOS.</text>
<text class="c" x="1577" y="812" textLength="29">WORKING</text>
<text class="c" x="1623" y="812" textLength="32">STAND BY</text>
</g>
<g>
<text class="c" x="1361" y="826.5" text-anchor="middle">F1</text><text class="c" x="1380" y="826.5" textLength="97">DIESEL OPERATED FIRE PUMP</text><text class="c" x="1548" y="826.5">1</text><text class="c" x="1588" y="826.5">1</text><text class="c" x="1632" y="826.5">–</text>
<text class="c" x="1361" y="838" text-anchor="middle">F2</text><text class="c" x="1380" y="838" textLength="131">MAIN FIRE PUMP ELECTRICAL OPERATED</text><text class="c" x="1548" y="838">1</text><text class="c" x="1588" y="838">1</text><text class="c" x="1632" y="838">–</text>
<text class="c" x="1361" y="849.5" text-anchor="middle">F3</text><text class="c" x="1380" y="849.5" textLength="81">JOCKEY PUMP(FOR FIRE)</text><text class="c" x="1548" y="849.5">1</text><text class="c" x="1588" y="849.5">1</text><text class="c" x="1632" y="849.5">–</text>
<text class="c" x="1361" y="861" text-anchor="middle">F4</text><text class="c" x="1380" y="861" textLength="56">SPRINKLER PUMP</text><text class="c" x="1548" y="861">1</text><text class="c" x="1588" y="861">1</text><text class="c" x="1632" y="861">–</text>
<text class="c" x="1361" y="872.5" text-anchor="middle">PV</text><text class="c" x="1380" y="872.5" textLength="121">PRESSURE VESSEL FOR FIRE PUMPS</text><text class="c" x="1548" y="872.5">1</text><text class="c" x="1588" y="872.5">1</text><text class="c" x="1632" y="872.5">–</text>
<text class="c" x="1361" y="884" text-anchor="middle">P1</text><text class="c" x="1380" y="884" textLength="143">RAW WATER PUMP FOR FILTER &amp; SOFTNER</text><text class="c" x="1548" y="884">2</text><text class="c" x="1588" y="884">1</text><text class="c" x="1632" y="884">1</text>
<text class="c" x="1361" y="895" text-anchor="middle">P2</text><text class="c" x="1380" y="895" textLength="79">GARDEN HYDRANT PUMP</text><text class="c" x="1548" y="895">2</text><text class="c" x="1588" y="895">1</text><text class="c" x="1632" y="895">1</text>
<text class="c" x="1361" y="906.5" text-anchor="middle">P3</text><text class="c" x="1380" y="906.5" textLength="149">HYDRO PUMP FOR DOMESTIC WATER SUPPLY</text><text class="c" x="1548" y="906.5">2</text><text class="c" x="1588" y="906.5">1</text><text class="c" x="1632" y="906.5">1</text>
<text class="c" x="1361" y="918" text-anchor="middle">P4</text><text class="c" x="1380" y="918" textLength="62">SOFT WATER PUMP</text><text class="c" x="1548" y="918">2</text><text class="c" x="1588" y="918">1</text><text class="c" x="1632" y="918">1</text>
<text class="c" x="1361" y="929.5" text-anchor="middle">F</text><text class="c" x="1380" y="929.5" textLength="22">FILTER</text><text class="c" x="1548" y="929.5">1</text><text class="c" x="1588" y="929.5">1</text><text class="c" x="1632" y="929.5">–</text>
<text class="c" x="1361" y="941" text-anchor="middle">S</text><text class="c" x="1380" y="941" textLength="28">SOFTNER</text><text class="c" x="1548" y="941">1</text><text class="c" x="1588" y="941">1</text><text class="c" x="1632" y="941">–</text>
<text class="c" x="1361" y="952.5" text-anchor="middle">CL</text><text class="c" x="1380" y="952.5" textLength="42">CHLORINATOR</text><text class="c" x="1548" y="952.5">1</text><text class="c" x="1588" y="952.5">1</text><text class="c" x="1632" y="952.5">–</text>
</g>

<!-- ================= SCHEDULE OF PIPE INSERT ================= -->
<g>
<text class="n" x="1442" y="995" font-size="11" textLength="172">SCHEDULE OF PIPE INSERT</text>
<line x1="1442" y1="997" x2="1614" y2="997" stroke="#000" stroke-width="1"/>
</g>
<g stroke="#000" fill="none" stroke-width="1.1">
<rect x="1354" y="1001" width="379" height="200"/>
<path d="M1381,1001v200M1642,1001v200M1682,1001v200"/>
<path d="M1354,1018h379M1354,1029h379M1354,1040.7h379M1354,1052.3h379M1354,1064h379M1354,1075.3h379M1354,1086.7h379M1354,1097.7h379M1354,1109.3h379M1354,1120.3h379M1354,1131.7h379M1354,1143.3h379M1354,1155h379M1354,1166h379M1354,1177.3h379M1354,1189h379"/>
</g>
<g>
<text class="c" x="1355" y="1012" textLength="25">SYMBOL</text>
<text class="c" x="1509" y="1012" text-anchor="middle">DESCRIPTION</text>
<text class="c" x="1662" y="1012" text-anchor="middle">DIA</text>
<text class="c" x="1707" y="1012" text-anchor="middle">INVERT LVL</text>
<text class="c" x="1368" y="1026.5" text-anchor="middle">A</text><text class="c" x="1388" y="1026.5" textLength="208">INLET FROM TUBE WELL TO FIRE TANK AND RAW WATER TANK</text><text class="c" x="1662" y="1026.5" text-anchor="middle">80ø</text><text class="c" x="1707" y="1026.5" text-anchor="middle">-250</text>
<text class="c" x="1368" y="1038" text-anchor="middle">B</text><text class="c" x="1388" y="1038" textLength="195">INLET FROM MUNICIPAL TO FIRE &amp; DOMESTIC WATER TANK</text><text class="c" x="1662" y="1038" text-anchor="middle">50ø</text><text class="c" x="1707" y="1038" text-anchor="middle">-250</text>
<text class="c" x="1368" y="1049.5" text-anchor="middle">C</text><text class="c" x="1388" y="1049.5" textLength="157">SUCTION PIPE TO FIRE PUMP FROM FIRE TANK</text><text class="c" x="1662" y="1049.5" text-anchor="middle">200ø</text><text class="c" x="1707" y="1049.5" text-anchor="middle">-4750</text>
<text class="c" x="1368" y="1061" text-anchor="middle">D</text><text class="c" x="1388" y="1061" textLength="200">SUCTION PIPE TO RAW WATER PUMP FOR GARDEN HYDRANT</text><text class="c" x="1662" y="1061" text-anchor="middle">65ø</text><text class="c" x="1707" y="1061" text-anchor="middle">-4750</text>
<text class="c" x="1368" y="1072.5" text-anchor="middle">E</text><text class="c" x="1388" y="1072.5" textLength="205">SUCTION PIPE TO RAW WATER PUMP FOR FILTER &amp; SOFTNER</text><text class="c" x="1662" y="1072.5" text-anchor="middle">65ø</text><text class="c" x="1707" y="1072.5" text-anchor="middle">-4750</text>
<text class="c" x="1368" y="1084" text-anchor="middle">F</text><text class="c" x="1388" y="1084" textLength="173">INLET PIPE TO DOMESTIC WATER TANK FROM FILTER</text><text class="c" x="1662" y="1084" text-anchor="middle">50ø</text><text class="c" x="1707" y="1084" text-anchor="middle">-250</text>
<text class="c" x="1368" y="1095" text-anchor="middle">G</text><text class="c" x="1388" y="1095" textLength="246">INLET PIPE TO DOMESTIC &amp; SOFT WATER TANK FROM FILTER &amp; SOFTNER</text><text class="c" x="1662" y="1095" text-anchor="middle">50ø</text><text class="c" x="1707" y="1095" text-anchor="middle">-250</text>
<text class="c" x="1368" y="1106.5" text-anchor="middle">H</text><text class="c" x="1388" y="1106.5" textLength="181">SUCTION PIPE TO RELIFT PUMP FOR DOMESTIC WATER</text><text class="c" x="1662" y="1106.5" text-anchor="middle">80ø</text><text class="c" x="1707" y="1106.5" text-anchor="middle">-4750</text>
<text class="c" x="1368" y="1117.5" text-anchor="middle">I</text><text class="c" x="1388" y="1117.5" textLength="124">SUCTION PIPE TO SOFT WATER PUMP</text><text class="c" x="1662" y="1117.5" text-anchor="middle">65ø</text><text class="c" x="1707" y="1117.5" text-anchor="middle">-4750</text>
<text class="c" x="1368" y="1129" text-anchor="middle">J</text><text class="c" x="1388" y="1129" textLength="53">DRAIN OUT PIPE</text><text class="c" x="1662" y="1129" text-anchor="middle">80ø</text><text class="c" x="1707" y="1129" text-anchor="middle">-4725</text>
<text class="c" x="1368" y="1140.5" text-anchor="middle">K</text><text class="c" x="1388" y="1140.5" textLength="56">OVER FLOW PIPE</text><text class="c" x="1662" y="1140.5" text-anchor="middle">100ø</text><text class="c" x="1707" y="1140.5" text-anchor="middle">-225</text>
<text class="c" x="1368" y="1152" text-anchor="middle">L</text><text class="c" x="1388" y="1152" textLength="107">SLEEVE FOR LEVEL CONTROLLER</text><text class="c" x="1662" y="1152" text-anchor="middle">150ø</text><text class="c" x="1707" y="1152" text-anchor="middle">-200</text>
<text class="c" x="1368" y="1163" text-anchor="middle">M</text><text class="c" x="1388" y="1163" textLength="34">VENT PIPE</text><text class="c" x="1662" y="1163" text-anchor="middle">100ø</text><text class="c" x="1707" y="1163" text-anchor="middle" textLength="46">TOP OF SLAB</text>
<text class="c" x="1368" y="1174.5" text-anchor="middle">N</text><text class="c" x="1388" y="1174.5" textLength="190">OVER FLOW PIPE FROM FIRE TANK TO RAW WATER TANK</text><text class="c" x="1662" y="1174.5" text-anchor="middle">100ø</text><text class="c" x="1707" y="1174.5" text-anchor="middle">-225</text>
<text class="c" x="1368" y="1186" text-anchor="middle">O</text><text class="c" x="1388" y="1186" textLength="166">SUCTION PIPE TO FIRE BRIGADE FROM FIRE TANK</text><text class="c" x="1662" y="1186" text-anchor="middle">150ø</text><text class="c" x="1707" y="1186" text-anchor="middle">-225</text>
<text class="c" x="1368" y="1197.5" text-anchor="middle">P</text><text class="c" x="1388" y="1197.5" textLength="177">INLET PIPE TO FIRE TANK FOR FIRE BRIGADE FILLING</text><text class="c" x="1662" y="1197.5" text-anchor="middle">150ø</text><text class="c" x="1707" y="1197.5" text-anchor="middle">-225</text>
</g>
</svg>
</body></html>
